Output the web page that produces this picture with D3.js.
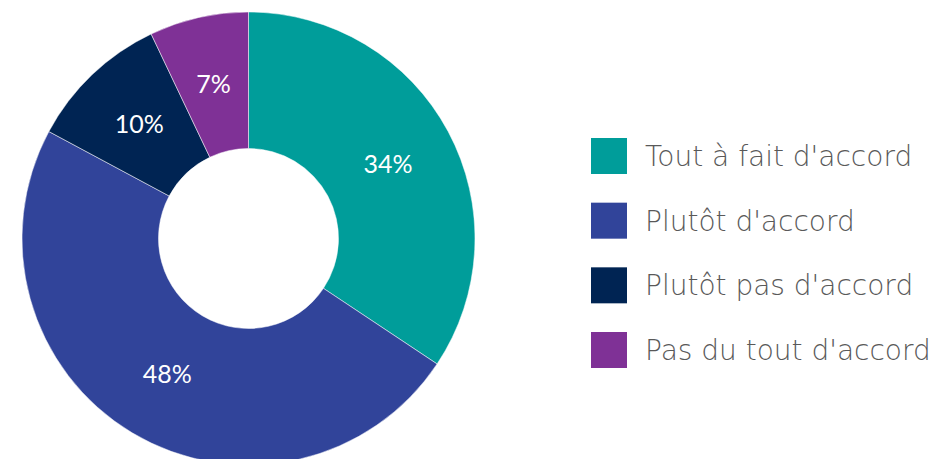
<!DOCTYPE html>
<html><head><meta charset="utf-8">
<script src="https://cdn.jsdelivr.net/npm/d3@7"></script>
<style>body{margin:0;background:#fff}svg{display:block}</style>
</head><body>
<svg id="c" width="935" height="459"></svg>
<script>
const categories = ["Tout à fait d'accord", "Plutôt d'accord", "Plutôt pas d'accord", "Pas du tout d'accord"];
const values = [34, 48, 10, 7];
const colors = ["#009D9A", "#31449A", "#002453", "#7F3196"];

const svg = d3.select("#c");
const cx = 248.5, cy = 238.5, rOuter = 226.5, rInner = 90;
const pie = d3.pie().sort(null).value(d => d)(values);
const arc = d3.arc().innerRadius(rInner).outerRadius(rOuter);
const g = svg.append("g").attr("transform", `translate(${cx},${cy})`);
g.selectAll("path").data(pie).join("path")
  .attr("d", arc).attr("fill", (d, i) => colors[i])
  .attr("stroke", "#ffffff").attr("stroke-width", 0.5);
g.selectAll("text").data(pie).join("text")
  .attr("transform", d => `translate(${arc.centroid(d)})`)
  .attr("text-anchor", "middle").attr("dy", "0.36em")
  .attr("fill", "#fff").style("font-family", "Lato, 'Open Sans', sans-serif").style("font-size", "25px")
  .text(d => d.value + "%");

const y = d3.scalePoint().domain(categories).range([156, 350]);
const lg = svg.append("g");
const items = lg.selectAll("g").data(categories).join("g")
  .attr("transform", d => `translate(591,${y(d)})`);
items.append("rect").attr("x", 0).attr("y", -18).attr("width", 36).attr("height", 36)
  .attr("fill", (d, i) => colors[i]);
items.append("text").attr("x", 54).attr("dy", "0.36em")
  .attr("fill", "#595959").style("font-family", "'DejaVu Sans', sans-serif").style("font-size", "28px")
  .style("font-weight", "300")
  .text(d => d);
</script>
</body></html>
